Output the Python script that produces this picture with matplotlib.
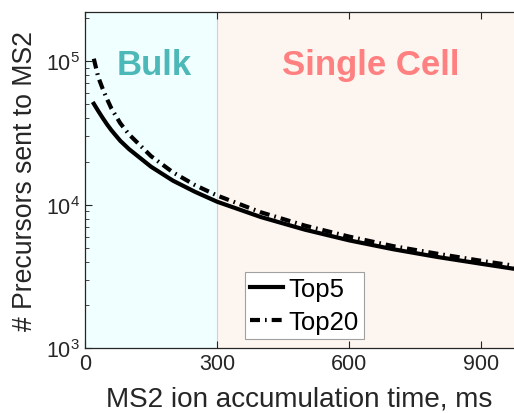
import matplotlib
matplotlib.use("Agg")
import matplotlib.pyplot as plt
import matplotlib.transforms as mtransforms
from matplotlib.ticker import LogLocator, NullFormatter

# Temps d'accumulation MS2 (ms) et nombre de précurseurs
accum_time = [20, 30, 40, 50, 60, 80, 100, 150, 200, 250, 300, 400, 500, 600, 700, 800, 900, 980]
top5 = [50500, 45000, 40300, 36300, 33000, 27900, 24400, 18400, 14700, 12300, 10500,
        8200, 6700, 5650, 4900, 4330, 3880, 3560]
top20 = [104000, 77500, 64400, 54500, 46800, 37000, 30900, 21800, 16800, 13700, 11600,
         8850, 7150, 6000, 5150, 4560, 4070, 3740]

regions = ["Bulk", "Single Cell"]
region_edges = [(0, 300), (300, 1000)]
region_fill = ["#F0FFFF", "#FDF5F0"]
region_text_color = ["#4DB8B8", "#FF8080"]
region_text_x = [157, 650]

plt.rcParams["font.family"] = ["Liberation Sans", "DejaVu Sans"]
plt.rcParams["mathtext.default"] = "regular"

fig = plt.figure(figsize=(5.14, 4.14), dpi=100)
ax = fig.add_axes([0.1654, 0.1563, 1.0 - 0.1654, 0.9686 - 0.1563])

for (x0, x1), fc in zip(region_edges, region_fill):
    ax.axvspan(x0, x1, color=fc, lw=0, zorder=0)
ax.axvline(300, color="#D0D0D0", lw=0.8, zorder=1)

trans = mtransforms.blended_transform_factory(ax.transData, ax.transAxes)
for name, c, xt in zip(regions, region_text_color, region_text_x):
    ax.text(xt, 0.816, name, color=c, fontsize=25, fontweight="bold",
            ha="center", va="baseline", transform=trans)

ax.plot(accum_time, top5, color="black", lw=3, label="Top5", zorder=3)
ax.plot(accum_time, top20, color="black", lw=3, dashes=(2.4, 1.2, 0.4, 1.2),
        label="Top20", zorder=3)

ax.set_yscale("log")
ax.set_xlim(0, 975)
ax.set_ylim(1e3, 2.2e5)
ax.set_xticks([0, 300, 600, 900])
ax.yaxis.set_major_locator(LogLocator(base=10, numticks=10))
ax.yaxis.set_minor_locator(LogLocator(base=10, subs=range(2, 10), numticks=10))
ax.yaxis.set_minor_formatter(NullFormatter())

ax.tick_params(which="both", direction="in", top=True, right=False,
               labelsize=15.5, colors="#262626", labelcolor="#262626")
ax.tick_params(which="major", length=5, width=0.8)
ax.tick_params(which="minor", length=3, width=0.6)
ax.tick_params(axis="x", which="minor", top=False, bottom=False)
for side in ["left", "bottom", "top"]:
    ax.spines[side].set_color("#262626")
    ax.spines[side].set_linewidth(0.9)
ax.spines["right"].set_visible(False)

ax.set_xlabel("MS2 ion accumulation time, ms", fontsize=20.1, color="#262626", labelpad=8)
ax.set_ylabel("# Precursors sent to MS2", fontsize=19.2, color="#262626", labelpad=6)

leg = ax.legend(loc="lower left", bbox_to_anchor=(0.372, 0.028), borderaxespad=0,
                fontsize=18.5, handlelength=1.3, handletextpad=0.2,
                labelspacing=0.35, borderpad=0.2, fancybox=False, framealpha=1)
leg.get_frame().set_edgecolor("#A0A0A0")
leg.get_frame().set_linewidth(0.8)

fig.savefig("out.png", dpi=100)
